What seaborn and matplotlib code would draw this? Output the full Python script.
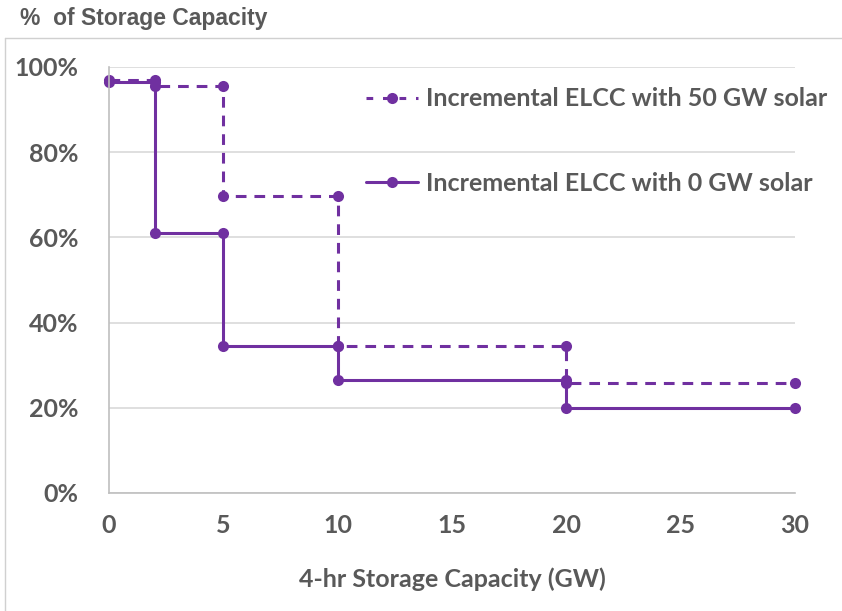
import matplotlib
matplotlib.use("Agg")
import matplotlib.pyplot as plt
import seaborn as sns
import pandas as pd
from matplotlib.lines import Line2D

# ---- data ----
step_edges = [0, 2, 5, 10, 20, 30]          # GW of 4-hr storage
elcc_0gw_solar = [96.5, 61.0, 34.5, 26.5, 20.0]   # % per step
elcc_50gw_solar = [97.0, 95.5, 69.7, 34.5, 25.8]  # % per step
series_names = ["Incremental ELCC with 50 GW solar", "Incremental ELCC with 0 GW solar"]
x_ticks = [0, 5, 10, 15, 20, 25, 30]
y_ticks = [0, 20, 40, 60, 80, 100]

def step_points(edges, vals):
    xs, ys = [], []
    for i, v in enumerate(vals):
        xs += [edges[i], edges[i + 1]]
        ys += [v, v]
    return xs, ys

rows = []
for name, vals in zip(series_names, [elcc_50gw_solar, elcc_0gw_solar]):
    xs, ys = step_points(step_edges, vals)
    for k, (x, y) in enumerate(zip(xs, ys)):
        rows.append({"series": name, "x": x, "y": y, "order": k})
df = pd.DataFrame(rows)

sns.set_theme(style="white")
plt.rcParams["font.family"] = ["Lato", "DejaVu Sans"]

purple = "#7030A0"
grey_txt = "#595959"
FS = 18

fig = plt.figure(figsize=(8.42, 6.11), dpi=100)
ax = fig.add_axes([109 / 842, 1 - 493 / 611, (795 - 109) / 842, (493 - 67) / 611])

styles = {series_names[0]: (3.5, 2.6), series_names[1]: ""}
for name in series_names:
    sub = df[df.series == name]
    sns.lineplot(data=sub, x="x", y="y", sort=False, estimator=None, ax=ax,
                 color=purple, linewidth=2.2, marker="o", markersize=8,
                 markeredgewidth=0, dashes=False, legend=False, clip_on=False)
    line = ax.get_lines()[-1]
    if styles[name]:
        line.set_dashes(styles[name])

ax.set_xlim(0, 30)
ax.set_ylim(0, 100)
ax.set_xticks(x_ticks)
ax.set_yticks(y_ticks)
ax.set_xticklabels([str(t) for t in x_ticks])
ax.set_yticklabels([f"{t}%" for t in y_ticks])
ax.tick_params(axis="both", length=0, labelsize=FS, labelcolor=grey_txt)
ax.tick_params(axis="x", pad=15)
ax.tick_params(axis="y", pad=22)
for lab in ax.get_xticklabels() + ax.get_yticklabels():
    lab.set_fontweight("bold")
ax.yaxis.grid(True, color="#d9d9d9", linewidth=1.2)
ax.xaxis.grid(False)
for s in ["top", "right"]:
    ax.spines[s].set_visible(False)
for s in ["left", "bottom"]:
    ax.spines[s].set_color("#bfbfbf")
    ax.spines[s].set_linewidth(1.2)
ax.set_xlabel("4-hr Storage Capacity (GW)", fontsize=FS, fontweight="bold",
              color=grey_txt, labelpad=22)
ax.set_ylabel("")

handles = [
    Line2D([], [], color=purple, linewidth=2.2, dashes=(2.2, 3.2), marker="o",
           markersize=8, markeredgewidth=0),
    Line2D([], [], color=purple, linewidth=2.2, marker="o", markersize=8,
           markeredgewidth=0),
]
leg = fig.legend(handles, series_names, loc="upper left",
                 bbox_to_anchor=(353 / 842, 1 - 75 / 611), frameon=False,
                 fontsize=FS, labelspacing=2.45, handlelength=2.1,
                 handletextpad=0.3, borderpad=0)
for t in leg.get_texts():
    t.set_color(grey_txt)
    t.set_fontweight("bold")

fig.text(20 / 842, 1 - 19 / 611, "%  of Storage Capacity", fontsize=16.5,
         fontweight="bold", color=grey_txt, va="center", ha="left",
         family=["Liberation Sans", "DejaVu Sans"])

# chart-area frame lines
fig.add_artist(Line2D([5 / 842, 1], [1 - 38 / 611, 1 - 38 / 611],
                      color="#d0d0d0", linewidth=1, transform=fig.transFigure))
fig.add_artist(Line2D([5 / 842, 5 / 842], [0, 1 - 38 / 611],
                      color="#d0d0d0", linewidth=1, transform=fig.transFigure))

fig.savefig("out.png", dpi=100, facecolor="white")
